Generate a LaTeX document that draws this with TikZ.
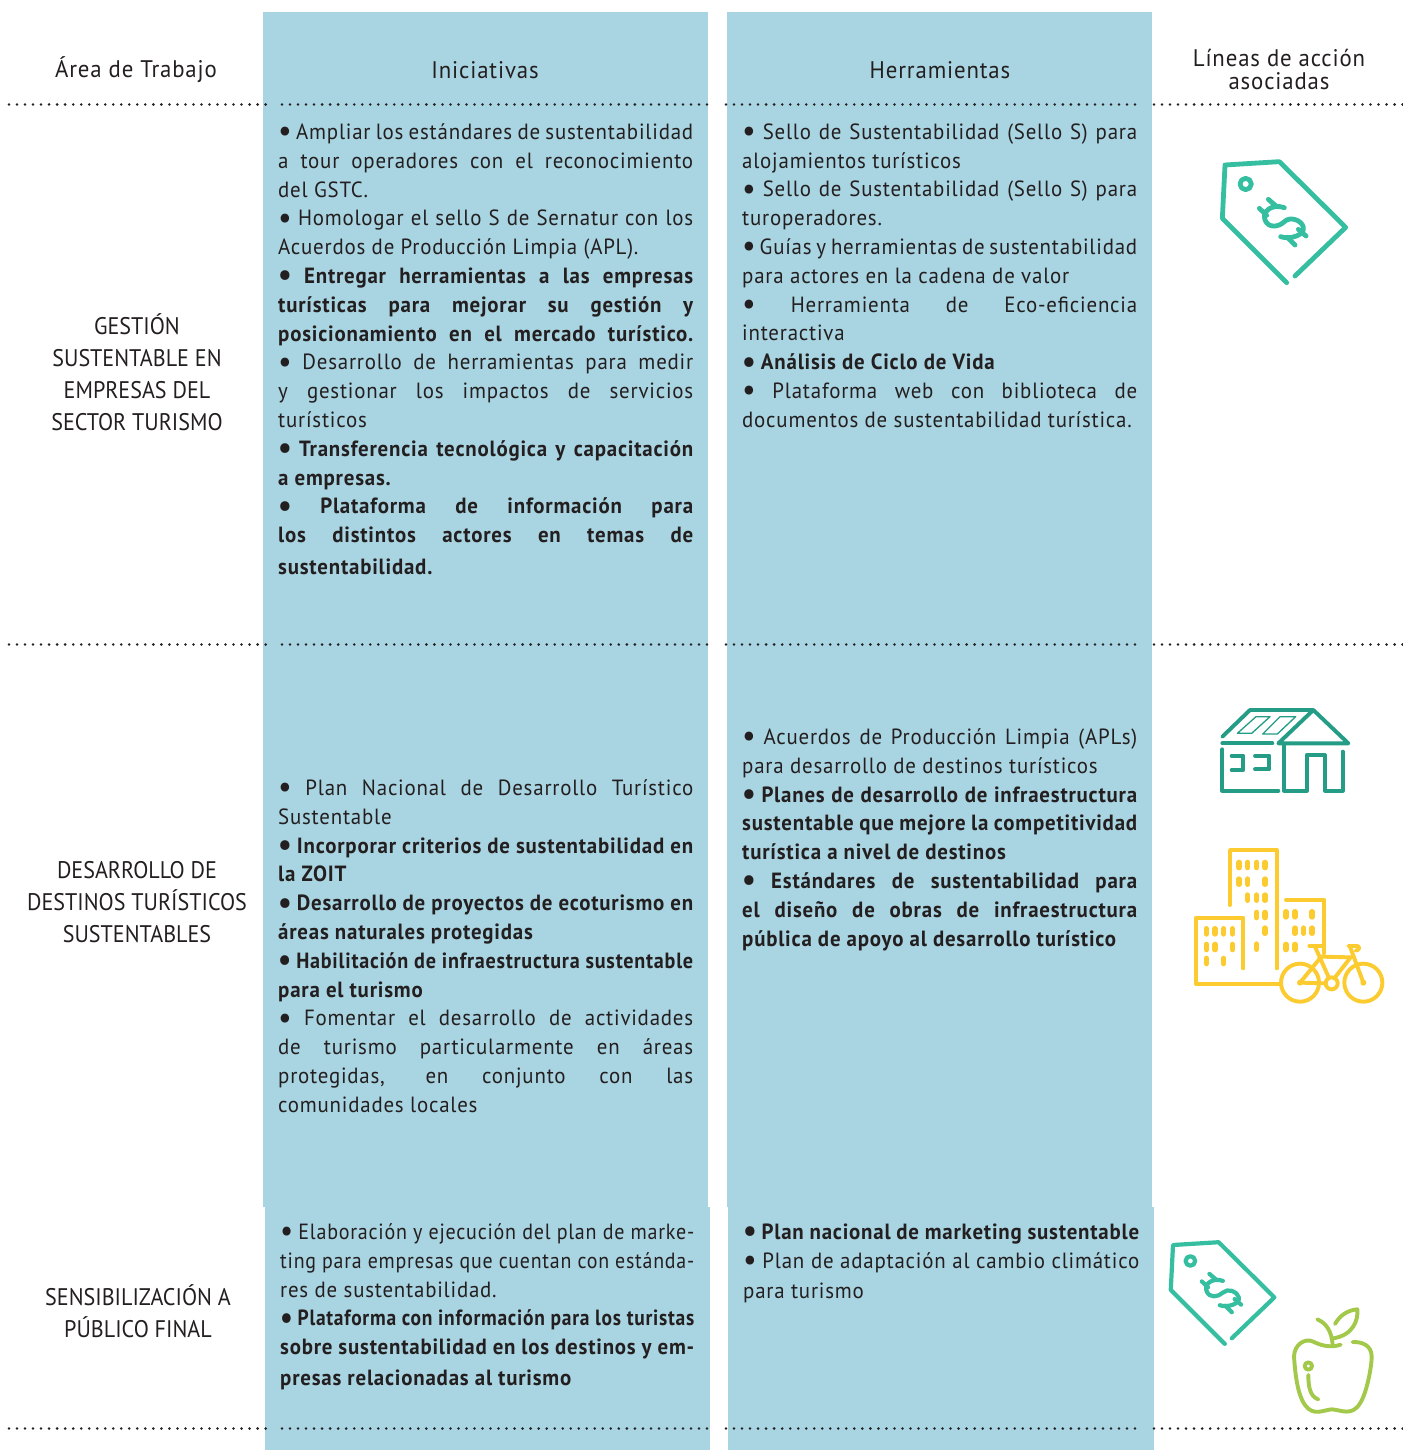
\documentclass[tikz,border=0pt]{standalone}
\usepackage{fontspec}
\setmainfont[FakeStretch=0.95,LetterSpace=3.6]{PT Sans}
\newfontfamily\areafont[FakeStretch=0.92]{PT Sans}
\definecolor{colbg}{HTML}{A9D4E1}
\definecolor{ink}{HTML}{231F20}
\definecolor{tagc}{HTML}{35BFA0}
\definecolor{housec}{HTML}{249C86}
\definecolor{yelc}{HTML}{FBCB30}
\definecolor{applec}{HTML}{A3C94A}
\newcommand{\bu}{\raisebox{-0.11em}{\scalebox{1.45}{•}}\kern-1pt}
\newcommand{\JLa}[1]{\makebox[415pt][s]{#1}}
\newcommand{\JLb}[1]{\makebox[395pt][s]{#1}}
\newcommand{\JLc}[1]{\makebox[414pt][s]{#1}}
\newcommand{\JLd}[1]{\makebox[396pt][s]{#1}}
\newcommand{\tagicon}{%
  \draw[tagline,tagc] (185,353) -- (-8,160) -- (0,0) -- (163,-10) -- (362,187) -- (210,333);
  \draw[tagline,tagc] (62,57) circle (17);
  \draw[tagline,tagc] (178,128) .. controls (140,115) and (110,140) .. (120,165)
     .. controls (130,190) and (160,187) .. (178,170)
     .. controls (195,153) and (230,165) .. (235,187)
     .. controls (240,210) and (195,225) .. (167,215);
  \draw[tagline,tagc] (130,103) -- (153,123);
  \draw[tagline,tagc] (103,130) -- (125,151);
  \draw[tagline,tagc] (243,213) -- (220,193);
  \draw[tagline,tagc] (210,240) -- (187,217);
}
\newcommand{\wn}[2]{\draw[win] (#1,#2-8) -- (#1,#2+8);}
\tikzset{
  panel/.style={fill=colbg,draw=none},
  dotline/.style={line width=2.8pt,line cap=round,ink,dash pattern=on 0pt off 8.02pt},
  head/.style={font=\fontsize{24}{23}\selectfont,text=ink,align=center,inner sep=0pt},
  area/.style={font=\areafont\fontsize{24}{32}\selectfont,text=ink,align=center,inner sep=0pt},
  body/.style={font=\fontsize{22}{28.8}\selectfont,text=ink,align=left,inner sep=0pt,anchor=north west},
  tagline/.style={line width=4.8pt,line cap=round,line join=round},
  icon/.style={line width=3.9pt,line cap=round,line join=round},
  win/.style={line width=5.3pt,line cap=round,yelc},
}
\begin{document}
\begin{tikzpicture}[x=1pt,y=-1pt]
\useasboundingbox (0,0) rectangle (1402,1450);
\fill[white] (0,0) rectangle (1402,1450);
% columns
\fill[panel] (263,12) rectangle (708,1207);
\fill[panel] (265,1207) rectangle (710,1450);
\fill[panel] (727,12) rectangle (1152,1207);
\fill[panel] (728,1207) rectangle (1154,1450);
% dotted rules
\foreach \y in {104.5,644.5,1428.5}{
  \draw[dotline] (9,\y) -- (266,\y);
  \draw[dotline] (282,\y) -- (710,\y);
  \draw[dotline] (726,\y) -- (1137,\y);
  \draw[dotline] (1154,\y) -- (1403,\y);
}
% headings
\node[head] (h1) at (136,70) {Área de Trabajo};
\node[head] (h2) at (485,70) {Iniciativas};
\node[head] (h3) at (940,70) {Herramientas};
\node[head] (h4) at (1279,70) {Líneas de acción\\asociadas};
% row labels
\node[area] (a1) at (137,372) {GESTIÓN\\SUSTENTABLE EN\\EMPRESAS DEL\\SECTOR TURISMO};
\node[area] (a2) at (137,902) {DESARROLLO DE\\DESTINOS TURÍSTICOS\\SUSTENTABLES};
\node[area] (a3) at (138,1311) {SENSIBILIZACIÓN A\\PÚBLICO FINAL};
% row 1
\node[body] (r1a) at (278,123.5) {%
\JLa{\bu\ Ampliar los estándares de sustentabilidad}\\
\JLa{a tour operadores con el reconocimiento}\\
del GSTC.\\
\JLa{\bu\ Homologar el sello S de Sernatur con los}\\
Acuerdos de Producción Limpia (APL).\\
\bfseries\JLa{\bu\ Entregar herramientas a las empresas}\\
\bfseries\JLa{turísticas para mejorar su gestión y}\\
\bfseries\JLa{posicionamiento en el mercado turístico.}\\
\JLa{\bu\ Desarrollo de herramientas para medir}\\
\JLa{y gestionar los impactos de servicios}\\
turísticos\\
\bfseries\JLa{\bu\ Transferencia tecnológica y capacitación}\\
\bfseries a empresas.\\
\bfseries\JLa{\bu\ Plataforma de información para}\\
\bfseries\JLa{los distintos actores en temas de}\\[3pt]
\bfseries sustentabilidad.};
\node[body] (r1b) at (742,123.5) {%
\JLb{\bu\ Sello de Sustentabilidad (Sello S) para}\\
alojamientos turísticos\\
\JLb{\bu\ Sello de Sustentabilidad (Sello S) para}\\
turoperadores.\\
\JLb{\bu\ Guías y herramientas de sustentabilidad}\\
para actores en la cadena de valor\\
\JLb{\bu\ Herramienta de Eco-eficiencia}\\
interactiva\\
\bfseries \bu\ Análisis de Ciclo de Vida\\
\JLb{\bu\ Plataforma web con biblioteca de}\\
documentos de sustentabilidad turística.};
% row 2
\node[body] (r2a) at (278,779.5) {%
\JLa{\bu\ Plan Nacional de Desarrollo Turístico}\\
Sustentable\\
\bfseries\JLa{\bu\ Incorporar criterios de sustentabilidad en}\\
\bfseries la ZOIT\\
\bfseries\JLa{\bu\ Desarrollo de proyectos de ecoturismo en}\\
\bfseries áreas naturales protegidas\\
\bfseries\resizebox{415pt}{\height}{\bu\ Habilitación de infraestructura sustentable}\\
\bfseries para el turismo\\
\JLa{\bu\ Fomentar el desarrollo de actividades}\\
\JLa{de turismo particularmente en áreas}\\
\JLa{protegidas, en conjunto con las}\\
comunidades locales};
\node[body] (r2b) at (742,728.5) {%
\JLb{\bu\ Acuerdos de Producción Limpia (APLs)}\\
para desarrollo de destinos turísticos\\
\bfseries\JLb{\bu\ Planes de desarrollo de infraestructura}\\
\bfseries\JLb{sustentable que mejore la competitividad}\\
\bfseries turística a nivel de destinos\\
\bfseries\JLb{\bu\ Estándares de sustentabilidad para}\\
\bfseries\JLb{el diseño de obras de infraestructura}\\
\bfseries pública de apoyo al desarrollo turístico};
% row 3
\node[body] (r3a) at (280,1223.5) {%
\resizebox{414pt}{\height}{\bu\ Elaboración y ejecución del plan de marke-}\\
\resizebox{414pt}{\height}{ting para empresas que cuentan con estánda-}\\
res de sustentabilidad.\\
\bfseries\resizebox{414pt}{\height}{\bu\ Plataforma con información para los turistas}\\
\bfseries\JLc{sobre sustentabilidad en los destinos y em-}\\[2pt]
\bfseries presas relacionadas al turismo};
\node[body] (r3b) at (743,1223.5) {%
\bfseries\JLd{\bu\ Plan nacional de marketing sustentable}\\
\JLd{\bu\ Plan de adaptación al cambio climático}\\[2pt]
para turismo};
% price tags
\begin{scope}[shift={(1225,165)},scale=1/3]\tagicon\end{scope}
\begin{scope}[shift={(1173,1245)},scale=0.28,tagline/.append style={line width=4.2pt}]\tagicon\end{scope}
% house
\begin{scope}[shift={(1180,690)},scale=1/3,housec]
  \draw[icon] (127,140) -- (210,60) -- (400,60);
  \draw[icon] (295,160) -- (400,60) -- (505,160) -- cycle;
  \draw[icon] (127,160) -- (277,160);
  \draw[icon] (127,178) -- (127,302) -- (295,302);
  \draw[icon] (312,165) -- (312,302) -- (380,302) -- (380,195) -- (435,195) -- (435,302) -- (488,302) -- (488,185);
  \draw[icon] (155,197) -- (190,197) -- (190,240) -- (155,240);
  \draw[icon] (225,197) -- (268,197) -- (268,238) -- (225,238);
  \draw[line width=1.3pt,line join=round] (228,80) -- (270,80) -- (215,130) -- (172,130) -- cycle;
  \draw[line width=1.3pt,line join=round] (300,80) -- (347,80) -- (292,132) -- (248,132) -- cycle;
\end{scope}
% city and bicycle
\begin{scope}[shift={(1180,690)},scale=1/3,yelc]
  \draw[icon] (150,645) -- (150,480) -- (290,480) -- (290,835);
  \draw[icon] (318,629) -- (432,629) -- (432,790);
  \draw[icon] (190,835) -- (190,683) -- (48,683) -- (48,882) -- (300,882);
  \foreach \p in {177,203,230,255}{\wn{\p}{525}}
  \foreach \p in {177,203,255}{\wn{\p}{575}}
  \foreach \p in {203,230,255}{\wn{\p}{623}}
  \foreach \p in {230,255}{\wn{\p}{675}}
  \wn{255}{722} \wn{230}{770}
  \foreach \p in {318,345,396}{\wn{\p}{673}}
  \foreach \p in {345,371,396}{\wn{\p}{722}}
  \foreach \p in {318,345}{\wn{\p}{771}}
  \foreach \p in {79,105,131,157}{\wn{\p}{724}}
  \foreach \p in {79,105,157}{\wn{\p}{771}}
  \foreach \p in {79,131}{\wn{\p}{813}}
  \draw[icon] (360,878) circle (57);
  \draw[icon] (550,878) circle (57);
  \draw[icon] (455,880) circle (18);
  \draw[icon] (360,878) -- (437,880);
  \draw[icon] (360,878) -- (424,800) -- (512,802) -- (462,866);
  \draw[icon] (405,770) -- (447,864);
  \draw[icon] (510,770) -- (550,878);
  \draw[icon] (388,768) -- (428,768);
  \draw[icon] (505,768) -- (533,768) .. controls (540,772) and (538,780) .. (527,782);
  \fill (360,878) circle (9);
  \fill (550,878) circle (9);
\end{scope}
% apple
\begin{scope}[shift={(1150,1220)},scale=1/3,applec]
  \draw[icon] (572,374) .. controls (540,385) and (510,375) .. (490,365)
    .. controls (465,352) and (432,375) .. (432,410)
    .. controls (435,450) and (440,520) .. (465,555)
    .. controls (490,590) and (520,570) .. (545,568)
    .. controls (575,570) and (605,590) .. (630,550)
    .. controls (650,520) and (665,440) .. (665,410)
    .. controls (665,375) and (635,365) .. (608,366);
  \draw[icon] (502,298) .. controls (530,310) and (545,335) .. (548,375);
  \draw[icon] (555,312) .. controls (570,285) and (595,270) .. (622,268)
    .. controls (625,300) and (610,345) .. (550,355);
  \draw[icon] (475,438) circle (11);
  \draw[icon] (475,465) .. controls (475,500) and (480,530) .. (505,538);
\end{scope}
\end{tikzpicture}
\end{document}
